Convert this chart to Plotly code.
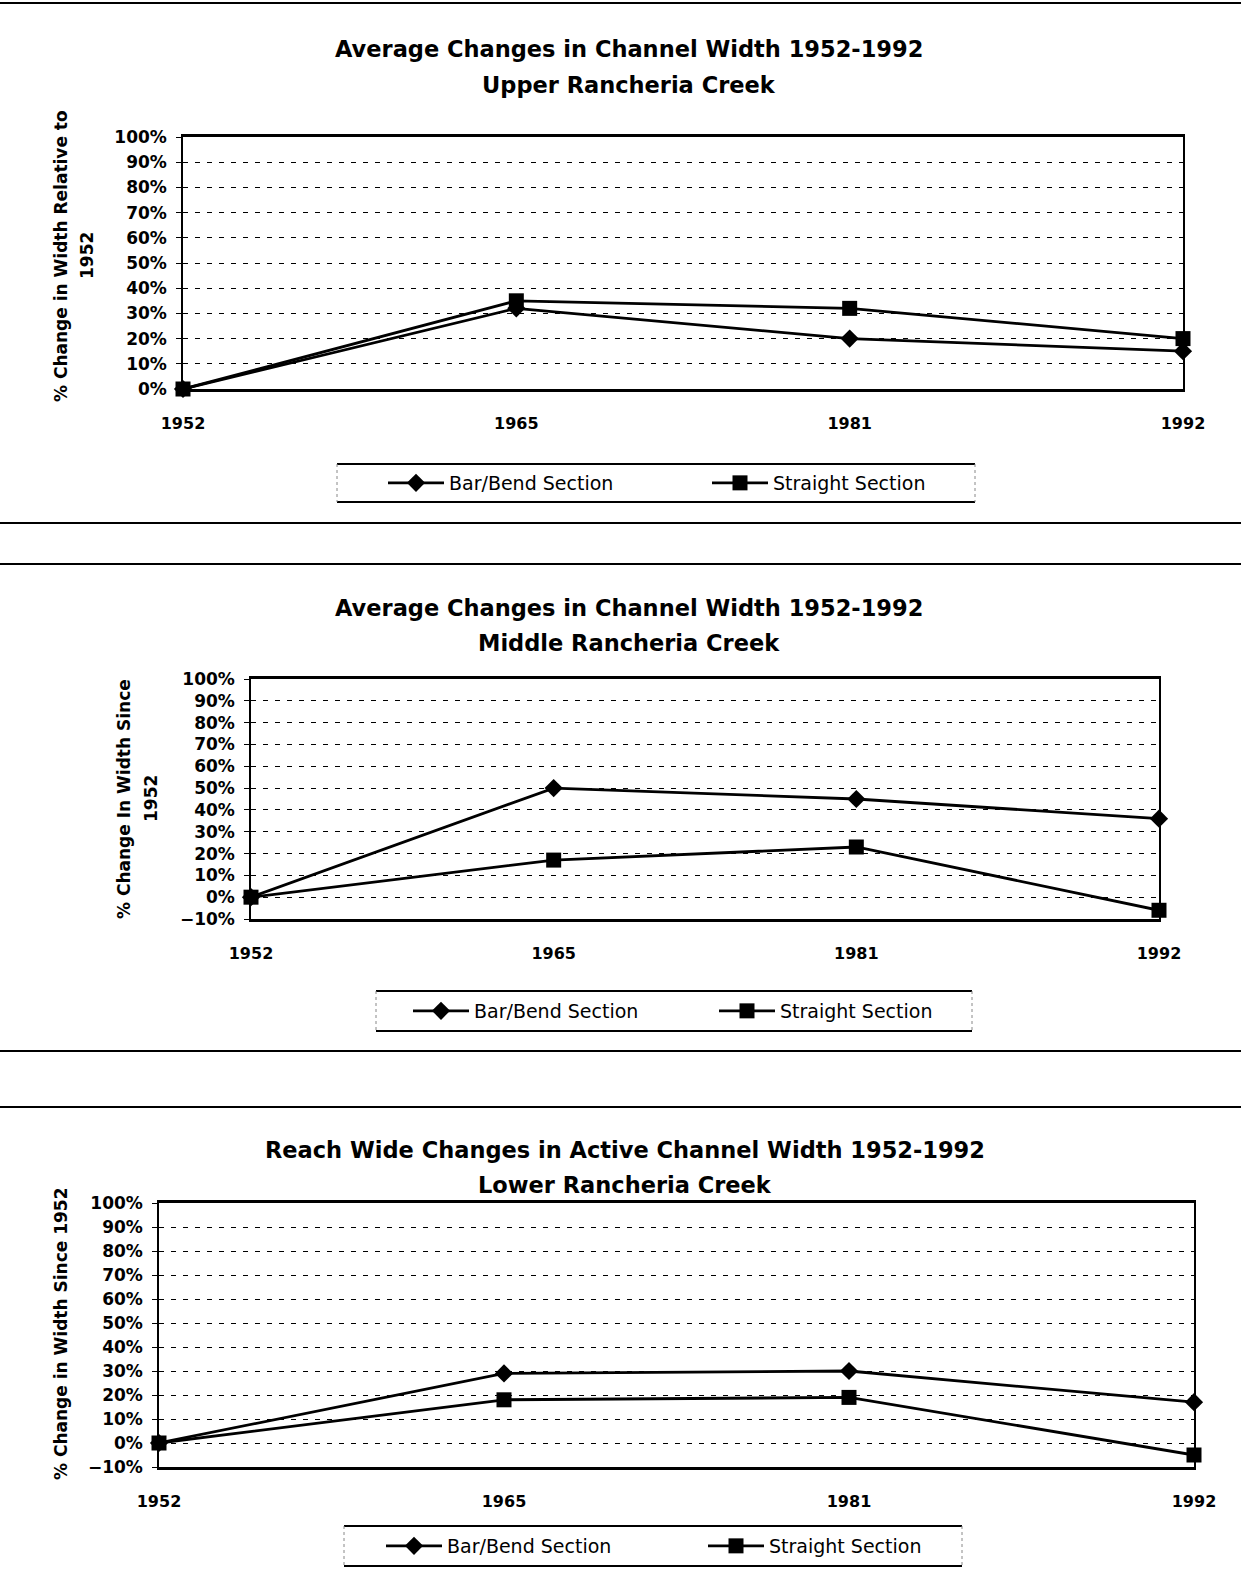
import plotly.graph_objects as go

# ---------------- data ----------------
years = ["1952", "1965", "1981", "1992"]

upper_bar_bend = [0, 32, 20, 15]
upper_straight = [0, 35, 32, 20]

middle_bar_bend = [0, 50, 45, 36]
middle_straight = [0, 17, 23, -6]

lower_bar_bend = [0, 29, 30, 17]
lower_straight = [0, 18, 19, -5]

series_names = ["Bar/Bend Section", "Straight Section"]

titles = [
    ("Average Changes in Channel Width 1952-1992", "Upper Rancheria Creek"),
    ("Average Changes in Channel Width 1952-1992", "Middle Rancheria Creek"),
    ("Reach Wide Changes in Active Channel Width 1952-1992", "Lower Rancheria Creek"),
]
y_titles = [
    ["% Change in Width Relative to", "1952"],
    ["% Change In Width Since", "1952"],
    ["% Change in Width Since 1952"],
]
y_ranges = [[0, 100], [-10, 100], [-10, 100]]

# ---------------- layout helpers ----------------
W, H = 1241, 1585
def fx(px):
    return px / W
def fy(py):
    return 1 - py / H

BOLD = "DejaVu Sans"
fig = go.Figure()

panels = [
    dict(data=(upper_bar_bend, upper_straight), xd=(183, 1183), yd=(137, 389),
         title_y=(49, 85), title_x=629, ytx=[61, 87], yty=256,
         leg_y=483, leg_x=383, leg_box=(337, 975, 464, 502), entry=253),
    dict(data=(middle_bar_bend, middle_straight), xd=(251, 1159), yd=(679, 919),
         title_y=(608, 643), title_x=629, ytx=[124, 151], yty=799,
         leg_y=1011, leg_x=408, leg_box=(376, 972, 991, 1031), entry=235),
    dict(data=(lower_bar_bend, lower_straight), xd=(159, 1194), yd=(1203, 1467),
         title_y=(1150, 1185), title_x=625, ytx=[61], yty=1334,
         leg_y=1546, leg_x=381, leg_box=(344, 962, 1526, 1566), entry=251),
]

symbols = ["diamond", "square"]
msizes = [14, 15]

shapes = []
annotations = []
layout_axes = {}

for i, p in enumerate(panels):
    n = "" if i == 0 else str(i + 1)
    xa, ya = "x" + n, "y" + n
    leg = "legend" + n
    for k in range(2):
        fig.add_trace(go.Scatter(
            x=years, y=p["data"][k], name=series_names[k],
            mode="lines+markers", xaxis=xa, yaxis=ya, legend=leg,
            line=dict(color="black", width=2.8),
            marker=dict(symbol=symbols[k], size=msizes[k], color="black"),
            cliponaxis=False, showlegend=True,
        ))
    layout_axes["xaxis" + n] = dict(
        domain=[fx(p["xd"][0]), fx(p["xd"][1])], anchor=ya,
        type="category", range=[0, 3], showgrid=False,
        showline=True, linecolor="black", linewidth=3, mirror=True,
        ticks="", ticklabelstandoff=18, automargin=False,
        tickfont=dict(family=BOLD, size=16, color="black", weight="bold"),
        fixedrange=True,
    )
    layout_axes["yaxis" + n] = dict(
        domain=[fy(p["yd"][1]), fy(p["yd"][0])], anchor=xa,
        range=y_ranges[i], dtick=10, ticksuffix="%",
        showgrid=True, gridcolor="black", gridwidth=1, griddash="5px,7px",
        zeroline=False, automargin=False,
        showline=True, linecolor="black", linewidth=1.5, mirror=True,
        ticks="outside", ticklen=5, tickcolor="black", ticklabelstandoff=6,
        tickfont=dict(family=BOLD, size=17, color="black", weight="bold"),
        fixedrange=True,
    )
    layout_axes[leg] = dict(
        orientation="h", x=fx(p["leg_x"]), y=fy(p["leg_y"]),
        xanchor="left", yanchor="middle", bgcolor="rgba(0,0,0,0)",
        borderwidth=0, itemwidth=56, entrywidth=p["entry"], entrywidthmode="pixels",
        font=dict(family="DejaVu Sans", size=19, color="black"),
    )
    # titles
    for t, ty in zip(titles[i], p["title_y"]):
        annotations.append(dict(
            text=t, x=fx(p["title_x"]), y=fy(ty), xref="paper", yref="paper",
            xanchor="center", yanchor="middle", showarrow=False,
            font=dict(family=BOLD, size=22.5, color="black", weight="bold"),
        ))
    # y-axis titles
    for t, tx in zip(y_titles[i], p["ytx"]):
        annotations.append(dict(
            text=t, x=fx(tx), y=fy(p["yty"]), xref="paper", yref="paper",
            xanchor="center", yanchor="middle", showarrow=False, textangle=-90,
            font=dict(family=BOLD, size=17, color="black", weight="bold"),
        ))
    # legend frame (top and bottom rules, faint sides)
    x0, x1, y0, y1 = p["leg_box"]
    for yy in (y0, y1):
        shapes.append(dict(type="line", xref="paper", yref="paper",
                           x0=fx(x0), x1=fx(x1), y0=fy(yy), y1=fy(yy),
                           line=dict(color="black", width=2)))
    for xx in (x0, x1):
        shapes.append(dict(type="line", xref="paper", yref="paper",
                           x0=fx(xx), x1=fx(xx), y0=fy(y0), y1=fy(y1),
                           line=dict(color="#888888", width=1, dash="dot")))

# page separator rules
for yy in (3, 523, 564, 1051, 1107):
    shapes.append(dict(type="line", xref="paper", yref="paper",
                       x0=0, x1=1, y0=fy(yy), y1=fy(yy),
                       line=dict(color="black", width=2)))

fig.update_layout(
    width=W, height=H, margin=dict(l=0, r=0, t=0, b=0, autoexpand=False),
    paper_bgcolor="white", plot_bgcolor="white",
    shapes=shapes, annotations=annotations,
    **layout_axes,
)

fig.write_html("out.html")
